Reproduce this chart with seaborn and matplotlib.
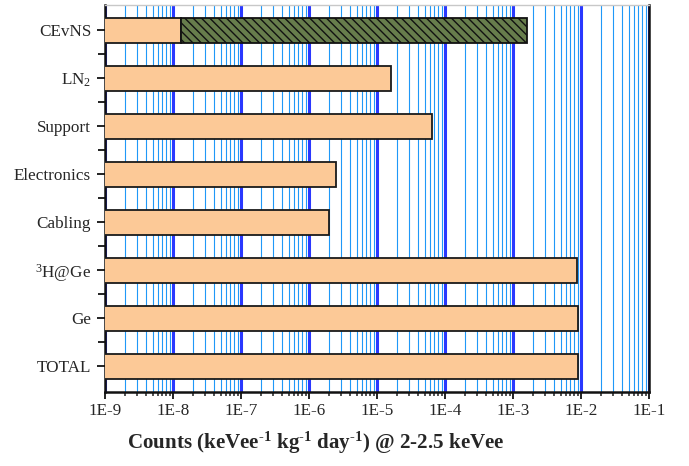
import numpy as np
import pandas as pd
import matplotlib
matplotlib.use("Agg")
import matplotlib.pyplot as plt
from matplotlib.ticker import LogLocator, FixedLocator, NullFormatter
import seaborn as sns

# Background sources, counts in keVee^-1 kg^-1 day^-1 at 2-2.5 keVee
categories = ["CEvNS", "LN$_2$", "Support", "Electronics", "Cabling",
              "$^3$H@Ge", "Ge", "TOTAL"]
rates = [1.31e-8, 1.61e-5, 6.4e-5, 2.49e-6, 1.95e-6, 8.83e-3, 8.95e-3, 9.04e-3]
# CEvNS signal band drawn on top of its background bar
cevns_low = 1.31e-8
cevns_high = 1.62e-3

xtick_labels = ["1E-9", "1E-8", "1E-7", "1E-6", "1E-5", "1E-4", "1E-3", "1E-2", "1E-1"]

ORANGE = "#fcc997"
GREEN = "#677d4c"

sns.set_style("white")
plt.rcParams["font.family"] = ["Liberation Serif", "DejaVu Serif"]
plt.rcParams["mathtext.fontset"] = "custom"
plt.rcParams["mathtext.rm"] = "Liberation Serif"
plt.rcParams["mathtext.bf"] = "Liberation Serif:bold"
plt.rcParams["mathtext.default"] = "regular"
plt.rcParams["axes.unicode_minus"] = False
plt.rcParams["hatch.linewidth"] = 1.0

fig = plt.figure(figsize=(6.89, 4.66), dpi=100)
ax = fig.add_axes([105 / 689, 1 - 392 / 466, 544 / 689, 387 / 466])
ax.set_xscale("log")

df = pd.DataFrame({"source": categories, "rate": rates})
sns.barplot(data=df, x="rate", y="source", orient="h", color=ORANGE,
            saturation=1, width=0.52, edgecolor="#1a1a1a", linewidth=1.3,
            ax=ax, zorder=3)

ax.barh(0, cevns_high - cevns_low, left=cevns_low, height=0.52,
        color=GREEN, edgecolor="#111111", linewidth=1.3, hatch="\\\\\\\\",
        zorder=4)

ax.set_xlim(1e-9, 1e-1)
ax.set_ylim(7.54, -0.53)

# Decade and sub-decade grid
ax.xaxis.set_major_locator(LogLocator(base=10, numticks=20))
ax.xaxis.set_minor_locator(LogLocator(base=10, subs=np.arange(2, 10), numticks=20))
ax.xaxis.set_minor_formatter(NullFormatter())
ax.set_xticks([10.0 ** e for e in range(-9, 0)])
ax.set_xticklabels(xtick_labels)
ax.grid(which="minor", axis="x", color="#1f98f8", linewidth=0.8, zorder=0)
ax.grid(which="major", axis="x", color="#2a38ff", linewidth=2.2, zorder=0)
ax.grid(axis="y", visible=False)
ax.set_axisbelow(True)

ax.yaxis.set_minor_locator(FixedLocator(np.arange(0.5, 7.5, 1.0)))

ax.tick_params(axis="both", which="both", bottom=True, left=True,
               top=False, right=False)
ax.tick_params(axis="both", which="major", direction="out", labelsize=12.3,
               width=1.4, color="#222222")
ax.tick_params(axis="x", which="major", length=5, pad=3)
ax.tick_params(axis="x", which="minor", direction="out", length=3, width=1.1,
               color="#222222")
ax.tick_params(axis="y", which="major", length=6, pad=4)
ax.tick_params(axis="y", which="minor", direction="out", length=5, width=1.4,
               color="#222222")

for side in ["left", "bottom", "right"]:
    ax.spines[side].set_color("#111111")
    ax.spines[side].set_linewidth(1.8)
ax.spines["top"].set_color("#c8c8c8")
ax.spines["top"].set_linewidth(1.0)

ax.set_xlabel("")
ax.set_ylabel("")
fig.text(316 / 689, 1 - 443 / 466,
         "Counts (keVee$^{\u20101}$ kg$^{\u20101}$ day$^{\u20101}$) @ 2-2.5 keVee",
         ha="center", va="center", fontsize=15.1, fontweight="bold")

fig.savefig("out.png", dpi=100)
